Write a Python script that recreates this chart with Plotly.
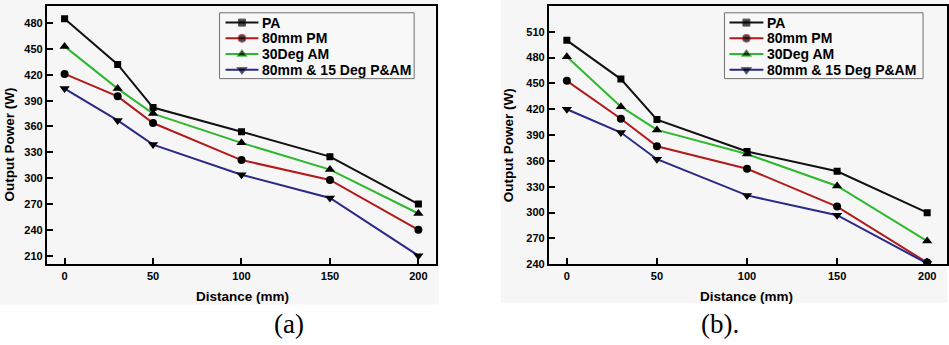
import plotly.graph_objects as go

# Distance from the source (mm)
distance = [0, 30, 50, 100, 150, 200]

series_names = ["PA", "80mm PM", "30Deg AM", "80mm & 15 Deg P&AM"]

# Panel (a): output power (W)
a_pa = [485, 432, 382, 354, 325, 270]
a_pm = [421, 395, 364, 321, 298, 240]
a_am = [453, 404, 375, 341, 310, 259]
a_pam = [404, 367, 339, 304, 277, 210]

# Panel (b): output power (W)
b_pa = [500, 455, 408, 371, 348, 300]
b_pm = [453, 409, 377, 351, 307, 242]
b_am = [481, 423, 396, 368, 331, 267]
b_pam = [420, 393, 362, 320, 297, 241]

line_colors = ["#111111", "#b31b1b", "#2eb82e", "#2a2a86"]
symbols = ["square", "circle", "triangle-up", "triangle-down"]
sizes = [7, 8, 9, 9]

W, H = 949, 345
FONT = "Arial, Liberation Sans, sans-serif"
BG = "#f6f6f6"

fig = go.Figure()

panels = [
    ([a_pa, a_pm, a_am, a_pam], "x", "y"),
    ([b_pa, b_pm, b_am, b_pam], "x2", "y2"),
]
for values, xa, ya in panels:
    for name, vals, col, sym, sz in zip(series_names, values, line_colors, symbols, sizes):
        fig.add_trace(go.Scatter(
            x=distance, y=vals, name=name, mode="lines+markers",
            line=dict(color=col, width=2),
            marker=dict(symbol=sym, size=sz, color="black"),
            xaxis=xa, yaxis=ya, showlegend=False,
        ))

# Legend boxes, drawn on a pixel-scaled overlay axis pair (x3/y3)
legend_boxes = [  # (left, top, right, bottom, glyph x0, glyph x1)
    (220, 13, 415, 80, 226, 259),
    (726, 13, 925, 80, 731, 765),
]
row_top, row_step = 23, 16
shapes = [
    dict(type="rect", xref="paper", yref="paper", layer="below",
         x0=0, x1=440 / W, y0=1 - 310 / H, y1=1,
         fillcolor=BG, line=dict(width=0)),
    dict(type="rect", xref="paper", yref="paper", layer="below",
         x0=502 / W, x1=1, y0=1 - 308 / H, y1=1,
         fillcolor=BG, line=dict(width=0)),
]
legend_font = dict(family=FONT, size=14, color="black", weight="bold")
legend_texts = []
for left, top, right, bottom, g0, g1 in legend_boxes:
    shapes.append(dict(type="rect", xref="x3", yref="y3", layer="below",
                       x0=left, x1=right, y0=top, y1=bottom,
                       fillcolor="#f8f8f8", line=dict(color="#707070", width=1)))
    for i, (name, col, sym, sz) in enumerate(zip(series_names, line_colors, symbols, sizes)):
        yy = row_top + i * row_step
        fig.add_trace(go.Scatter(
            x=[g0, (g0 + g1) / 2, g1], y=[yy, yy, yy], mode="lines+markers",
            line=dict(color=col, width=2),
            marker=dict(symbol=sym, size=[0, sz, 0], color="black"),
            xaxis="x3", yaxis="y3", showlegend=False, hoverinfo="skip",
        ))
        legend_texts.append(dict(text=name, x=g1 + 2, y=yy, xref="x3", yref="y3",
                                 xanchor="left", yanchor="middle", font=legend_font))

tick_font = dict(family=FONT, size=11, color="black", weight="bold")
axis_common = dict(
    showline=True, linecolor="black", linewidth=2, mirror=True,
    ticks="inside", ticklen=6, tickwidth=1.5, tickcolor="black",
    showgrid=False, zeroline=False, tickfont=tick_font,
)

y_dom = [1 - 269 / H, 1 - 6 / H]

fig.update_layout(
    width=W, height=H,
    margin=dict(l=0, r=0, t=0, b=0),
    paper_bgcolor="white",
    plot_bgcolor="rgba(0,0,0,0)",
    showlegend=False,
    xaxis=dict(domain=[47 / W, 437 / W], range=[-10, 210], dtick=50, tick0=0,
               anchor="y", **axis_common),
    yaxis=dict(domain=y_dom, range=[200, 500], dtick=30, tick0=0,
               anchor="x", **axis_common),
    xaxis2=dict(domain=[550 / W, 1.0], range=[-10, 211], dtick=50, tick0=0,
                anchor="y2", **axis_common),
    yaxis2=dict(domain=y_dom, range=[240, 540], dtick=30, tick0=0,
                anchor="x2", **axis_common),
    xaxis3=dict(domain=[0, 1], range=[0, W], visible=False, anchor="y3", fixedrange=True),
    yaxis3=dict(domain=[0, 1], range=[H, 0], visible=False, anchor="x3", fixedrange=True),
    shapes=shapes,
)

title_font = dict(family=FONT, size=13.5, color="black", weight="bold")
caption_font = dict(family="Times New Roman, Liberation Serif, serif", size=27, color="black")

annotations = [
    dict(text="Output Power (W)", x=9 / W, y=1 - 147 / H, textangle=-90, font=title_font),
    dict(text="Output Power (W)", x=510 / W, y=1 - 148 / H, textangle=-90, font=title_font),
    dict(text="Distance (mm)", x=243 / W, y=1 - 302 / H, font=title_font),
    dict(text="Distance (mm)", x=748 / W, y=1 - 302 / H, font=title_font),
    dict(text="(a)", x=290 / W, y=1 - 330 / H, font=caption_font),
    dict(text="(b).", x=722 / W, y=1 - 330 / H, font=caption_font),
]
for ann in annotations:
    fig.add_annotation(xref="paper", yref="paper", showarrow=False,
                       xanchor="center", yanchor="middle", **ann)
for ann in legend_texts:
    fig.add_annotation(showarrow=False, **ann)

fig.write_html("out.html")
